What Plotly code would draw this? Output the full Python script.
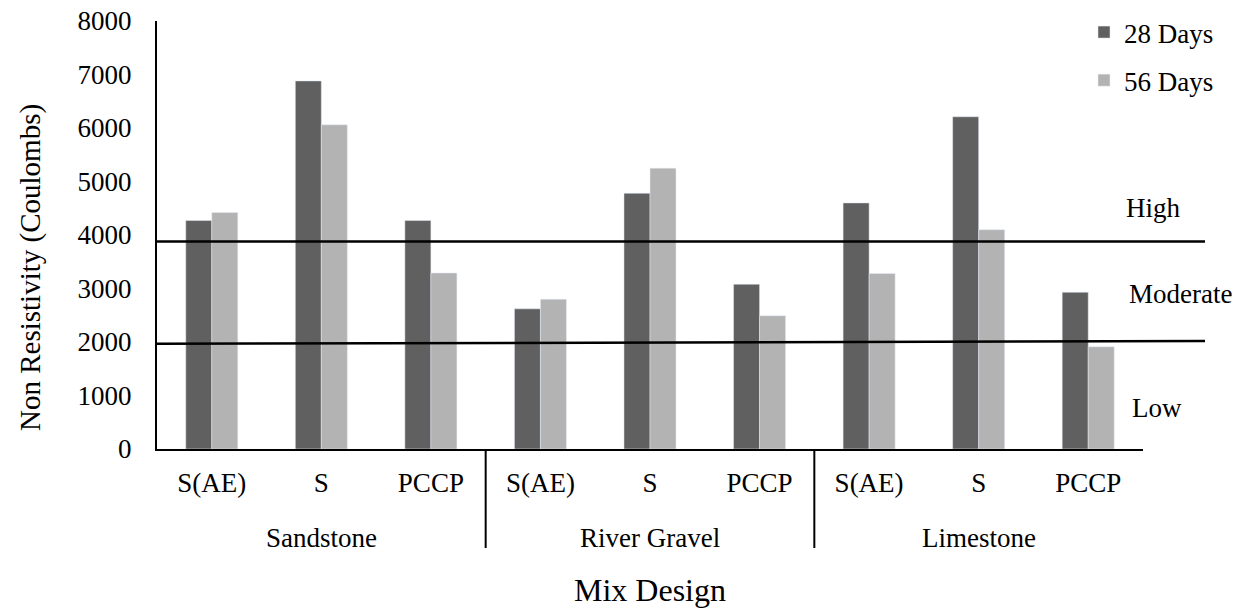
import plotly.graph_objects as go

# data
aggregates = ["Sandstone", "River Gravel", "Limestone"]
mixes = ["S(AE)", "S", "PCCP"] * 3
categories = [f"{agg} {mix}" for agg in aggregates for mix in ["S(AE)", "S", "PCCP"]]
days_28 = [4270, 6880, 4270, 2620, 4780, 3080, 4600, 6210, 2930]
days_56 = [4420, 6060, 3290, 2800, 5250, 2490, 3280, 4100, 1910]

high_limit = 3880
low_limit_left = 1965
low_limit_right = 2020
zone_labels = ["High", "Moderate", "Low"]

FONT = "Liberation Serif, Times New Roman, serif"
# the page body has an 8px margin, so work in page pixels minus 8
OFF = 8
W, H = 1252 - OFF, 611 - OFF
PLOT_L, PLOT_R, PLOT_T, PLOT_B = 157 - OFF, 1143 - OFF, 21 - OFF, 449 - OFF


def px_x(xpx):
    return (xpx - OFF - PLOT_L) / (PLOT_R - PLOT_L)


def px_y(ypx):
    return (PLOT_B - (ypx - OFF)) / (PLOT_B - PLOT_T)


fig = go.Figure()
fig.add_trace(go.Bar(x=categories, y=days_28, name="28 Days",
                     marker_color="#606060", legendgroup="a"))
fig.add_trace(go.Bar(x=categories, y=days_56, name="56 Days",
                     marker_color="#b3b3b3", legendgroup="b"))

fig.add_shape(type="line", xref="paper", yref="y", x0=0, x1=px_x(1205),
              y0=high_limit, y1=high_limit, line=dict(color="black", width=2.5))
fig.add_shape(type="line", xref="paper", yref="y", x0=0, x1=px_x(1205),
              y0=low_limit_left, y1=low_limit_right, line=dict(color="black", width=2.5))

# group separators below the axis
for pos in (2.5, 5.5):
    fig.add_shape(type="line", xref="x", yref="paper", x0=pos, x1=pos,
                  y0=0, y1=px_y(548), line=dict(color="black", width=2))

# aggregate group labels under the mix labels
for i, agg in enumerate(aggregates):
    fig.add_annotation(text=agg, xref="x", yref="paper", x=categories[3 * i + 1],
                       y=px_y(538), showarrow=False, xanchor="center", yanchor="middle",
                       font=dict(size=27, color="black", family=FONT))

for text, xpx, ypx in zip(zone_labels, [1153, 1180, 1157], [208, 294, 408]):
    fig.add_annotation(text=text, xref="paper", yref="paper", x=px_x(xpx), y=px_y(ypx),
                       showarrow=False, xanchor="center", yanchor="middle",
                       font=dict(size=27, color="black", family=FONT))

# y title sits a bit below the plot centre in the original
fig.add_annotation(text="Non Resistivity (Coulombs)", xref="paper", yref="paper",
                   x=px_x(30), y=px_y(268), textangle=-90, showarrow=False,
                   xanchor="center", yanchor="middle",
                   font=dict(size=29, color="black", family=FONT))

fig.update_layout(
    width=W, height=H,
    margin=dict(l=PLOT_L, r=W - PLOT_R, t=PLOT_T, b=H - PLOT_B, autoexpand=False),
    plot_bgcolor="white", paper_bgcolor="white",
    font=dict(family=FONT, size=27, color="black"),
    barmode="group", bargap=0.525, bargroupgap=0,
    legend=dict(xref="container", yref="container", x=(1084 - OFF) / W, y=1.0,
                xanchor="left", yanchor="top", font=dict(size=27),
                tracegroupgap=10, bgcolor="rgba(0,0,0,0)"),
    xaxis=dict(title=dict(text="Mix Design", standoff=81), type="category",
               tickvals=categories, ticktext=mixes, showline=True, automargin=False,
               linecolor="black", linewidth=2, ticks="", ticklabelstandoff=9,
               showgrid=False),
    yaxis=dict(range=[0, 8000], dtick=1000, showgrid=False, zeroline=False,
               showline=True, linecolor="black", linewidth=2, automargin=False,
               ticks="", ticklabelstandoff=18, ticklabeloverflow="allow"),
)

fig.write_html("out.html")
